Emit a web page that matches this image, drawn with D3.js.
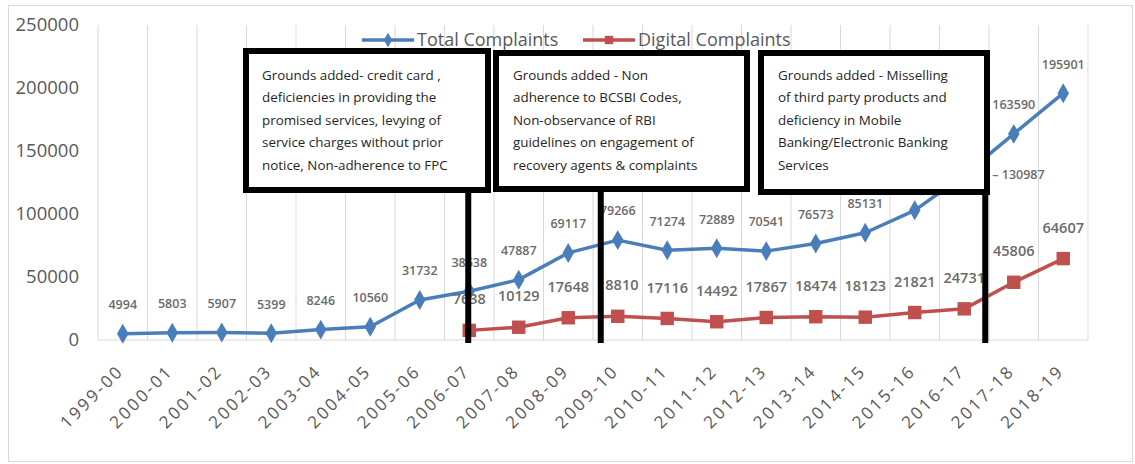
<!DOCTYPE html>
<html>
  <head>
    <meta charset="UTF-8" />
    <style>
      body { margin: 0; background: white; }
      text { font-family: "Open Sans", sans-serif; }
    </style>
  </head>
  <body>
    <svg></svg>
    <script src="https://d3js.org/d3.v7.min.js"></script>
    <script>
      let width = 1135,
        height = 464;

      // chart data
      const years = ["1999-00", "2000-01", "2001-02", "2002-03", "2003-04", "2004-05", "2005-06",
        "2006-07", "2007-08", "2008-09", "2009-10", "2010-11", "2011-12", "2012-13", "2013-14",
        "2014-15", "2015-16", "2016-17", "2017-18", "2018-19"];
      const totalComplaints = [4994, 5803, 5907, 5399, 8246, 10560, 31732, 38638, 47887, 69117,
        79266, 71274, 72889, 70541, 76573, 85131, 102894, 130987, 163590, 195901];
      const digitalComplaints = [null, null, null, null, null, null, null, 7638, 10129, 17648,
        18810, 17116, 14492, 17867, 18474, 18123, 21821, 24731, 45806, 64607];
      const yTicks = [0, 50000, 100000, 150000, 200000, 250000];
      const seriesNames = ["Total Complaints", "Digital Complaints"];
      const noteYears = ["2006-07", "2009-10", "2016-17"];
      const noteTexts = [
        ["Grounds added- credit card ,", "deficiencies in providing the", "promised services, levying of",
          "service charges without prior", "notice, Non-adherence to FPC"],
        ["Grounds added - Non", "adherence to BCSBI Codes,", "Non-observance of RBI",
          "guidelines on engagement of", "recovery agents & complaints"],
        ["Grounds added - Misselling", "of third party products and", "deficiency in Mobile",
          "Banking/Electronic Banking", "Services"]
      ];

      let svg = d3.select("svg").attr("width", width).attr("height", height);

      // outer chart border
      svg.append("rect")
        .attr("x", 8.5).attr("y", 5.5)
        .attr("width", 1124).attr("height", 456)
        .attr("fill", "white").attr("stroke", "#d9d9d9");

      let x = d3.scaleBand().domain(years).range([98, 1088]).padding(0);
      let cx = (d) => x(d) + x.bandwidth() / 2;
      let y = d3.scaleLinear().domain([0, 250000]).range([340, 25]);

      // vertical grid lines between categories
      svg.append("g")
        .selectAll("line")
        .data(years.concat(["end"]))
        .join("line")
        .attr("x1", (d, i) => (i < years.length ? x(d) : x.range()[1]))
        .attr("x2", (d, i) => (i < years.length ? x(d) : x.range()[1]))
        .attr("y1", y(250000))
        .attr("y2", y(0))
        .attr("stroke", "#d9d9d9")
        .attr("stroke-width", 1);

      svg.append("line")
        .attr("x1", x.range()[0]).attr("x2", x.range()[1])
        .attr("y1", y(0)).attr("y2", y(0))
        .attr("stroke", "#d9d9d9");

      // y axis labels
      svg.append("g")
        .selectAll("text")
        .data(yTicks)
        .join("text")
        .attr("x", 79)
        .attr("y", (d) => y(d))
        .attr("dy", "0.35em")
        .attr("text-anchor", "end")
        .attr("font-size", 18.5)
        .attr("fill", "#595959")
        .text((d) => d);

      // x axis labels, rotated
      svg.append("g")
        .selectAll("text")
        .data(years)
        .join("text")
        .attr("transform", (d) => `translate(${cx(d) + 2},${372}) rotate(-45)`)
        .attr("text-anchor", "end")
        .attr("font-size", 17)
        .attr("letter-spacing", 2.5)
        .attr("fill", "#595959")
        .text((d) => d);

      const blue = "#4a7ebb",
        red = "#c0504d";

      // legend
      let legend = svg.append("g");
      [[362, blue, "diamond"], [583, red, "square"]].forEach((l, i) => {
        legend.append("line")
          .attr("x1", l[0]).attr("x2", l[0] + 52)
          .attr("y1", 40).attr("y2", 40)
          .attr("stroke", l[1]).attr("stroke-width", 3.5);
        legend.append("path")
          .attr("transform", `translate(${l[0] + 26},40)`)
          .attr("d", d3.symbol(l[2] == "diamond" ? d3.symbolDiamond : d3.symbolSquare, l[2] == "diamond" ? 60 : 70)())
          .attr("fill", l[1]);
        legend.append("text")
          .attr("x", l[0] + 55).attr("y", 40)
          .attr("dy", "0.35em")
          .attr("font-size", 18)
          .attr("fill", "#595959")
          .text(seriesNames[i]);
      });

      let line = d3.line()
        .defined((d) => d != null)
        .x((d, i) => cx(years[i]))
        .y((d) => y(d));

      svg.append("path")
        .datum(totalComplaints)
        .attr("fill", "none")
        .attr("stroke", blue)
        .attr("stroke-width", 3.5)
        .attr("stroke-linejoin", "round")
        .attr("d", line);

      svg.append("path")
        .datum(digitalComplaints)
        .attr("fill", "none")
        .attr("stroke", red)
        .attr("stroke-width", 3.5)
        .attr("stroke-linejoin", "round")
        .attr("d", line);

      svg.append("g")
        .selectAll("path")
        .data(totalComplaints)
        .join("path")
        .attr("transform", (d, i) => `translate(${cx(years[i])},${y(d)})`)
        .attr("d", d3.symbol(d3.symbolDiamond, 115)())
        .attr("fill", blue);

      let digitalPts = digitalComplaints
        .map((v, i) => ({ v: v, year: years[i] }))
        .filter((d) => d.v != null);

      svg.append("g")
        .selectAll("path")
        .data(digitalPts)
        .join("path")
        .attr("transform", (d) => `translate(${cx(d.year)},${y(d.v)})`)
        .attr("d", d3.symbol(d3.symbolSquare, 180)())
        .attr("fill", red);

      // data labels
      svg.append("g")
        .selectAll("text")
        .data(totalComplaints)
        .join("text")
        .attr("x", (d, i) => (years[i] == "2016-17" ? cx(years[i]) + 28 : cx(years[i])))
        .attr("y", (d, i) => (years[i] == "2016-17" ? y(d) : y(d) - 29))
        .attr("dy", "0.35em")
        .attr("text-anchor", (d, i) => (years[i] == "2016-17" ? "start" : "middle"))
        .attr("font-size", 12.5)
        .attr("font-weight", 600)
        .attr("fill", "#6b6b6b")
        .text((d, i) => (years[i] == "2016-17" ? "– " + d : d));

      svg.append("g")
        .selectAll("text")
        .data(digitalPts)
        .join("text")
        .attr("x", (d) => cx(d.year))
        .attr("y", (d) => y(d.v) - 31)
        .attr("dy", "0.35em")
        .attr("text-anchor", "middle")
        .attr("font-size", 14.5)
        .attr("font-weight", 600)
        .attr("fill", "#6b6b6b")
        .text((d) => d.v);

      // annotation boxes
      const boxes = [
        { x: 246, y: 51, w: 242, h: 139, tx: 262, dx: -1 },
        { x: 496, y: 53, w: 251, h: 136, tx: 513, dx: -17 },
        { x: 761, y: 53, w: 226, h: 139, tx: 778, dx: 21 }
      ];

      boxes.forEach((b, i) => {
        let g = svg.append("g");
        let lx = cx(noteYears[i]) + b.dx;
        g.append("line")
          .attr("x1", lx).attr("x2", lx)
          .attr("y1", b.y + b.h).attr("y2", y(0) + 3)
          .attr("stroke", "black").attr("stroke-width", 6);
        g.append("rect")
          .attr("x", b.x).attr("y", b.y)
          .attr("width", b.w).attr("height", b.h)
          .attr("fill", "white")
          .attr("stroke", "black")
          .attr("stroke-width", 6);
        g.selectAll("text")
          .data(noteTexts[i])
          .join("text")
          .attr("x", b.tx)
          .attr("y", (d, j) => 75 + j * 22.6)
          .attr("dy", "0.35em")
          .attr("font-size", 13.4)
          .attr("fill", "#262626")
          .text((d) => d);
      });
    </script>
  </body>
</html>
